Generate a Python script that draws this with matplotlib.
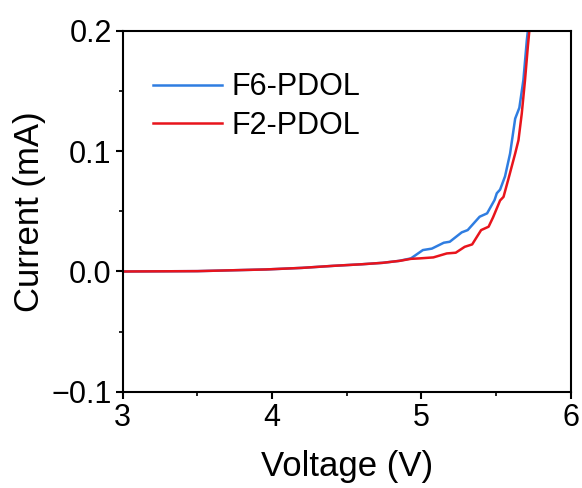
import matplotlib.pyplot as plt
import matplotlib.ticker as mticker

plt.rcParams['font.family'] = ['Liberation Sans', 'DejaVu Sans']

# F6-PDOL (blue)
v_f6 = [3.0, 3.5, 3.96, 4.2, 4.41, 4.6, 4.74, 4.85, 4.93, 5.01, 5.07, 5.15, 5.19,
        5.27, 5.31, 5.39, 5.44, 5.49, 5.505, 5.527, 5.56, 5.594, 5.628, 5.656,
        5.683, 5.706, 5.713, 5.73]
i_f6 = [0.0, 0.0003, 0.0017, 0.003, 0.0047, 0.006, 0.0072, 0.0088, 0.0109, 0.0178, 0.019,
        0.0239, 0.0247, 0.0325, 0.0344, 0.0455, 0.0483, 0.0594, 0.065, 0.068,
        0.079, 0.098, 0.127, 0.136, 0.159, 0.192, 0.2, 0.22]

# F2-PDOL (red)
v_f2 = [3.0, 3.5, 3.96, 4.2, 4.41, 4.6, 4.74, 4.857, 4.93, 4.99, 5.08, 5.17, 5.23,
        5.29, 5.34, 5.40, 5.45, 5.48, 5.527, 5.55, 5.583, 5.628, 5.65, 5.672,
        5.694, 5.713, 5.723, 5.74]
i_f2 = [0.0, 0.0003, 0.0017, 0.003, 0.0047, 0.006, 0.0072, 0.0089, 0.0105, 0.0109, 0.0117,
        0.015, 0.0156, 0.0205, 0.0225, 0.0344, 0.0372, 0.045, 0.059, 0.062,
        0.077, 0.098, 0.109, 0.131, 0.159, 0.187, 0.2, 0.22]

fig = plt.figure(figsize=(5.82, 4.88), dpi=100)
ax = fig.add_axes([0.211, 0.197, 0.7696, 0.74])

ax.plot(v_f6, i_f6, color='#2f7de1', lw=1.8, label='F6-PDOL')
ax.plot(v_f2, i_f2, color='#e8141c', lw=1.8, label='F2-PDOL')

ax.set_xlim(3, 6)
ax.set_ylim(-0.1, 0.2)
ax.xaxis.set_major_locator(mticker.MultipleLocator(1))
ax.xaxis.set_minor_locator(mticker.MultipleLocator(0.5))
ax.yaxis.set_major_locator(mticker.MultipleLocator(0.1))
ax.yaxis.set_minor_locator(mticker.MultipleLocator(0.05))
ax.yaxis.set_major_formatter(mticker.FuncFormatter(
    lambda y, pos: ('%.1f' % y).replace('-', '\u2212')))

for s in ax.spines.values():
    s.set_linewidth(1.5)
ax.tick_params(which='major', direction='out', length=5, width=1.5, labelsize=22, pad=3)
ax.tick_params(which='minor', direction='out', length=3, width=1.2)

ax.set_xlabel('Voltage (V)', fontsize=25, labelpad=12)
ax.set_ylabel('Current (mA)', fontsize=25, labelpad=4)

ax.legend(loc='upper left', bbox_to_anchor=(0.068, 0.885), frameon=False,
          fontsize=22, handlelength=2.26, handletextpad=0.3, labelspacing=0.28,
          borderpad=0, borderaxespad=0)

fig.savefig('out.png', dpi=100)
